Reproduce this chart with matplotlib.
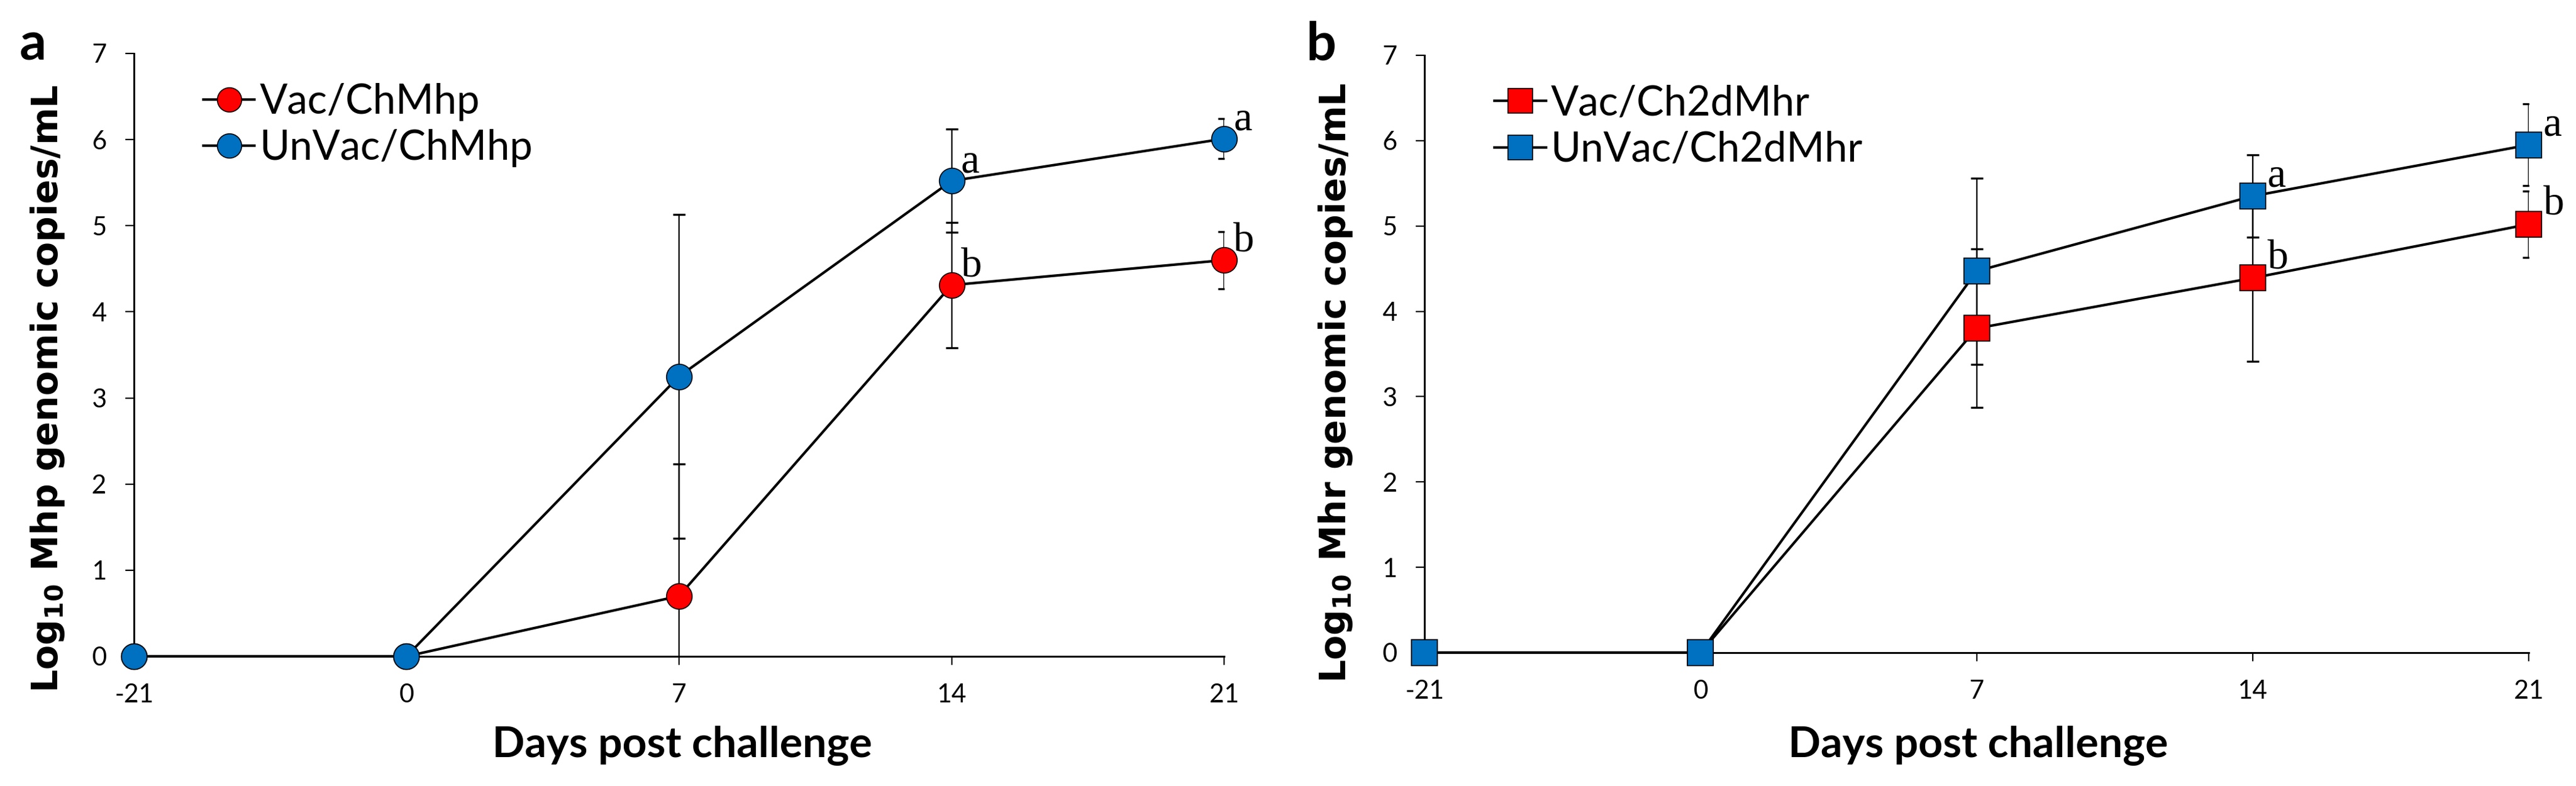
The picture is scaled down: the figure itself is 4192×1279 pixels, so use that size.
import numpy as np
import matplotlib
matplotlib.use("Agg")
import matplotlib.pyplot as plt

plt.rcParams['font.family'] = ['Lato', 'DejaVu Sans']
plt.rcParams['mathtext.fontset'] = 'dejavusans'

# categories (days post challenge)
days = ['-21', '0', '7', '14', '21']

# panel a: Mhp
vac_mhp = [0, 0, 0.70, 4.31, 4.60]
vac_mhp_err = [0, 0, 1.53, 0.73, 0.33]
unvac_mhp = [0, 0, 3.25, 5.52, 6.01]
unvac_mhp_err = [0, 0, 1.88, 0.60, 0.23]

# panel b: Mhr
vac_mhr = [0, 0, 3.80, 4.39, 5.02]
vac_mhr_err = [0, 0, 0.93, 0.98, 0.39]
unvac_mhr = [0, 0, 4.47, 5.35, 5.95]
unvac_mhr_err = [0, 0, 1.09, 0.48, 0.48]

# significance letters at day 14 and 21
letters_vac = ['b', 'b']
letters_unvac = ['a', 'a']

RED = '#FF0000'
BLUE = '#0070C0'

fig = plt.figure(figsize=(41.92, 12.79), dpi=100)
ax_a = fig.add_axes([0.0520, 0.1650, 0.4232, 0.7670])
ax_b = fig.add_axes([0.5530, 0.1697, 0.4287, 0.7600])


def draw_panel(ax, vac, vac_err, unvac, unvac_err, marker, names, off):
    x = np.arange(len(days))
    for y, e, c, name in [(vac, vac_err, RED, names[0]), (unvac, unvac_err, BLUE, names[1])]:
        y = np.array(y)
        e = np.array(e)
        ax.errorbar(x[2:], y[2:], yerr=e[2:], fmt='none', ecolor='black',
                    elinewidth=1.7, capsize=7, capthick=2.4, zorder=2)
        ax.plot(x, y, color='black', lw=3.0, marker=marker, ms=30, mfc=c,
                mec='black', mew=1.2, label=name, clip_on=False, zorder=3)
    for i, (lv, lu) in enumerate(zip(letters_vac, letters_unvac)):
        k = 3 + i
        ax.annotate(lv, (k, vac[k]), xytext=off, textcoords='offset points',
                    family='Liberation Serif', fontsize=49, ha='left', va='baseline')
        ax.annotate(lu, (k, unvac[k]), xytext=off, textcoords='offset points',
                    family='Liberation Serif', fontsize=49, ha='left', va='baseline')

    ax.set_xlim(0, 4)
    ax.set_ylim(0, 7)
    ax.set_xticks(x)
    ax.set_xticklabels(days)
    ax.set_yticks(range(8))
    ax.spines['top'].set_visible(False)
    ax.spines['right'].set_visible(False)
    ax.spines['left'].set_linewidth(2.2)
    ax.spines['bottom'].set_linewidth(2.2)
    ax.tick_params(axis='both', direction='out', length=10, width=1.6, labelsize=30)
    ax.tick_params(axis='y', pad=22)
    ax.tick_params(axis='x', pad=22)
    ax.patch.set_visible(False)
    ax.legend(loc='upper left', bbox_to_anchor=(0.045, 0.985), frameon=False,
              fontsize=48, handlelength=1.25, handletextpad=0.12,
              labelspacing=0.2, borderpad=0, markerscale=0.95)


draw_panel(ax_a, vac_mhp, vac_mhp_err, unvac_mhp, unvac_mhp_err, 'o',
           ['Vac/ChMhp', 'UnVac/ChMhp'], (11, 10))
draw_panel(ax_b, vac_mhr, vac_mhr_err, unvac_mhr, unvac_mhr_err, 's',
           ['Vac/Ch2dMhr', 'UnVac/Ch2dMhr'], (17, 11))

# axis titles
fig.text(0.2648, 0.0367, 'Days post challenge', fontsize=50, fontweight='bold',
         ha='center', va='baseline')
fig.text(0.7679, 0.0367, 'Days post challenge', fontsize=50, fontweight='bold',
         ha='center', va='baseline')
fig.text(0.0184, 0.5059, r'Log$_\mathbf{10}$ Mhp genomic copies/mL', family='DejaVu Sans',
         fontsize=42, fontweight='bold', rotation=90, ha='center', va='center')
fig.text(0.5184, 0.5129, r'Log$_\mathbf{10}$ Mhr genomic copies/mL', family='DejaVu Sans',
         fontsize=42, fontweight='bold', rotation=90, ha='center', va='center')

# panel letters
fig.text(32 / 4192, 1 - 98 / 1279, 'a', fontsize=62, fontweight='bold', ha='left', va='baseline')
fig.text(2126 / 4192, 1 - 98 / 1279, 'b', fontsize=62, fontweight='bold', ha='left', va='baseline')

fig.savefig('out.png', dpi=100)
